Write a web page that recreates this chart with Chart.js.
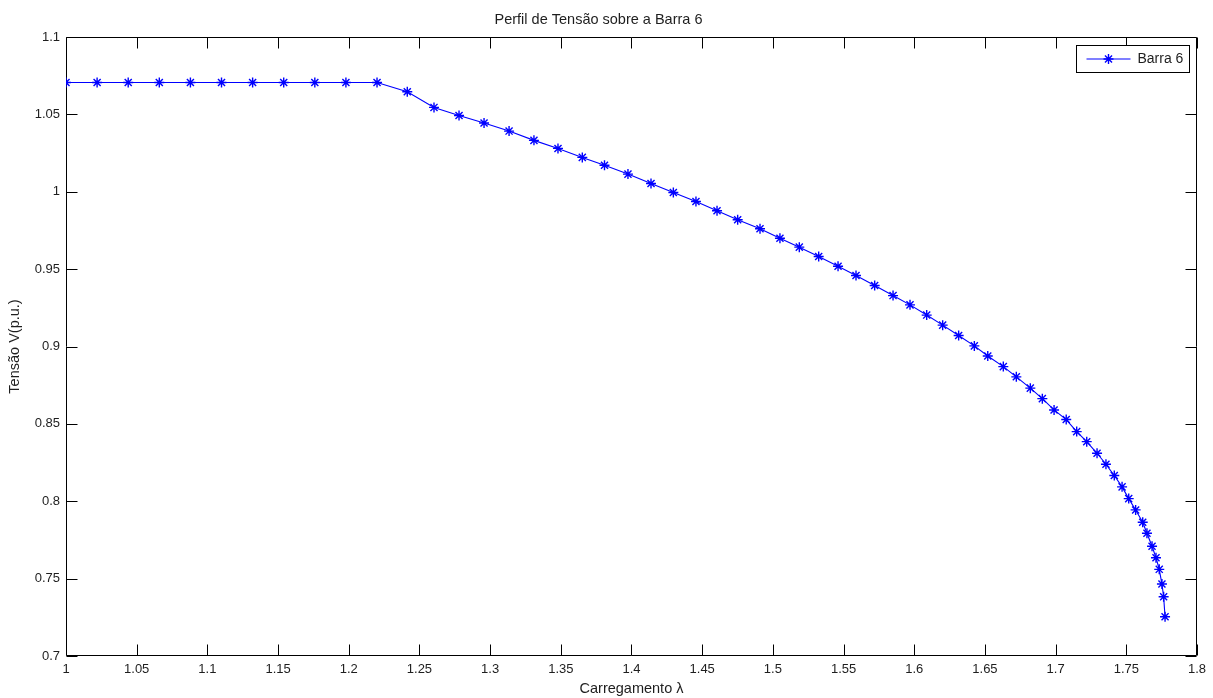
<!DOCTYPE html>
<html>
<head>
<meta charset="utf-8">
<script src="https://cdn.jsdelivr.net/npm/chart.js@4/dist/chart.umd.min.js"></script>
<style>
  html, body { margin: 0; padding: 0; background: #fff; }
  #wrap { width: 1213px; height: 698px; position: relative; }
</style>
</head>
<body>
<div id="wrap"><canvas id="c"></canvas></div>
<script>
// ---- Data ----
const chartTitle = 'Perfil de Tensão sobre a Barra 6';
const xTitle = 'Carregamento λ';
const yTitle = 'Tensão V(p.u.)';
const seriesLabel = 'Barra 6';

const lambda = [
  1.000, 1.022, 1.044, 1.066, 1.088, 1.110, 1.132, 1.154, 1.176, 1.198, 1.220,
  1.2414, 1.2603, 1.2780, 1.2957, 1.3134, 1.3310, 1.3480, 1.3652, 1.3809, 1.3975,
  1.4138, 1.4296, 1.4456, 1.4605, 1.4751, 1.4909, 1.5050, 1.5187, 1.5324, 1.5461,
  1.5588, 1.5720, 1.5850, 1.5970, 1.6088, 1.6201, 1.6314, 1.6425, 1.6520, 1.6630,
  1.6722, 1.6821, 1.6906, 1.6989, 1.7075, 1.7149, 1.7220, 1.7293, 1.7356, 1.7415,
  1.7470, 1.7517, 1.7566, 1.7616, 1.7646, 1.7682, 1.7710, 1.7733, 1.7752, 1.7764,
  1.7774
];
const voltage = [
  1.0706, 1.0706, 1.0706, 1.0706, 1.0706, 1.0706, 1.0706, 1.0706, 1.0706, 1.0706, 1.0706,
  1.0646, 1.0545, 1.0493, 1.0444, 1.0392, 1.0332, 1.0280, 1.0222, 1.0171, 1.0114,
  1.0053, 0.9995, 0.9937, 0.9877, 0.9819, 0.9761, 0.9700, 0.9642, 0.9582, 0.9519,
  0.9459, 0.9394, 0.9329, 0.9269, 0.9203, 0.9138, 0.9071, 0.9004, 0.8939, 0.8870,
  0.8804, 0.8731, 0.8663, 0.8590, 0.8528, 0.8450, 0.8385, 0.8310, 0.8239, 0.8166,
  0.8093, 0.8017, 0.7944, 0.7864, 0.7793, 0.7709, 0.7635, 0.7560, 0.7465, 0.7383,
  0.7254
];
const xTicks = [1, 1.05, 1.1, 1.15, 1.2, 1.25, 1.3, 1.35, 1.4, 1.45, 1.5, 1.55, 1.6, 1.65, 1.7, 1.75, 1.8];
const yTicks = [0.7, 0.75, 0.8, 0.85, 0.9, 0.95, 1, 1.05, 1.1];

// ---- Styling ----
const FONT = "'Liberation Sans', Arial, sans-serif";
const TEXT = '#1e1e1e';
const BLUE = 'rgb(0,0,255)';
const TICK_LEN = 11;

const matlabAxes = {
  id: 'matlabAxes',
  beforeDatasetsDraw(chart) {
    const {ctx, chartArea: a, scales: {x, y}} = chart;
    const L = Math.round(a.left) + 0.5, R = Math.round(a.right) - 0.5;
    const T = Math.round(a.top) + 0.5, B = Math.round(a.bottom) - 0.5;
    ctx.save();
    ctx.strokeStyle = '#000';
    ctx.lineWidth = 1;
    ctx.beginPath();
    ctx.rect(L, T, R - L, B - T);
    xTicks.forEach(v => {
      const px = Math.round(x.getPixelForValue(v)) + 0.5;
      ctx.moveTo(px, B); ctx.lineTo(px, B - TICK_LEN);
      ctx.moveTo(px, T); ctx.lineTo(px, T + TICK_LEN);
    });
    yTicks.forEach(v => {
      const py = Math.round(y.getPixelForValue(v)) + 0.5;
      ctx.moveTo(L, py); ctx.lineTo(L + TICK_LEN, py);
      ctx.moveTo(R, py); ctx.lineTo(R - TICK_LEN, py);
    });
    ctx.stroke();
    ctx.restore();
  },
  afterDraw(chart) {
    const {ctx, chartArea: a} = chart;
    const ds = chart.data.datasets[0];
    const w = 113, h = 27;
    const bx = Math.round(a.right - 8 - w) + 0.5, by = Math.round(a.top + 8) + 0.5;
    ctx.save();
    ctx.fillStyle = '#fff';
    ctx.strokeStyle = '#000';
    ctx.lineWidth = 1;
    ctx.fillRect(bx, by, w, h);
    ctx.strokeRect(bx, by, w, h);
    const cy = by + h / 2;
    ctx.strokeStyle = ds.borderColor;
    ctx.lineWidth = ds.borderWidth;
    ctx.beginPath();
    ctx.moveTo(bx + 10, cy); ctx.lineTo(bx + 54, cy);
    ctx.stroke();
    const mx = bx + 32, r = ds.pointRadius;
    const d = r * Math.SQRT1_2;
    ctx.lineWidth = ds.pointBorderWidth;
    ctx.beginPath();
    ctx.moveTo(mx - r, cy); ctx.lineTo(mx + r, cy);
    ctx.moveTo(mx, cy - r); ctx.lineTo(mx, cy + r);
    ctx.moveTo(mx - d, cy - d); ctx.lineTo(mx + d, cy + d);
    ctx.moveTo(mx - d, cy + d); ctx.lineTo(mx + d, cy - d);
    ctx.stroke();
    ctx.fillStyle = TEXT;
    ctx.font = '14px ' + FONT;
    ctx.textBaseline = 'middle';
    ctx.textAlign = 'left';
    ctx.fillText(ds.label, bx + 61, cy + 0.5);
    ctx.restore();
  }
};

Chart.defaults.font.family = FONT;
Chart.defaults.color = TEXT;

new Chart(document.getElementById('c'), {
  type: 'scatter',
  data: {
    datasets: [{
      label: seriesLabel,
      data: lambda.map((v, i) => ({x: v, y: voltage[i]})),
      showLine: true,
      borderColor: BLUE,
      backgroundColor: BLUE,
      borderWidth: 1.1,
      pointStyle: 'star',
      pointRadius: 5,
      pointBorderWidth: 1.4,
      pointBorderColor: BLUE,
      pointBackgroundColor: BLUE,
      pointHoverRadius: 5,
      tension: 0
    }]
  },
  options: {
    responsive: true,
    maintainAspectRatio: false,
    animation: false,
    events: [],
    layout: { padding: { top: 0, left: 0, right: 16, bottom: 0 } },
    plugins: {
      legend: { display: false },
      tooltip: { enabled: false },
      title: {
        display: true,
        text: chartTitle,
        color: TEXT,
        font: { size: 14.5, weight: 'normal', family: FONT },
        padding: { top: 11, bottom: 8.6 }
      }
    },
    scales: {
      x: {
        type: 'linear',
        min: 1, max: 1.8,
        afterBuildTicks: s => { s.ticks = xTicks.map(v => ({value: v})); },
        afterFit: s => { s.height = 42; },
        grid: { display: false, drawTicks: false },
        border: { display: false },
        ticks: {
          autoSkip: false, maxRotation: 0, padding: 6,
          font: { size: 13 }, color: TEXT,
          callback: v => String(v)
        },
        title: {
          display: true, text: xTitle, color: TEXT,
          font: { size: 14.5 }, padding: { top: 0, bottom: 0 }
        }
      },
      y: {
        type: 'linear',
        min: 0.7, max: 1.1,
        afterBuildTicks: s => { s.ticks = yTicks.map(v => ({value: v})); },
        afterFit: s => { s.width = 66; },
        grid: { display: false, drawTicks: false },
        border: { display: false },
        ticks: {
          autoSkip: false, padding: 6,
          font: { size: 13 }, color: TEXT,
          callback: v => String(v)
        },
        title: {
          display: true, text: yTitle, color: TEXT,
          font: { size: 14.5 }, padding: { top: 6, bottom: 0 }
        }
      }
    }
  },
  plugins: [matlabAxes]
});
</script>
</body>
</html>
